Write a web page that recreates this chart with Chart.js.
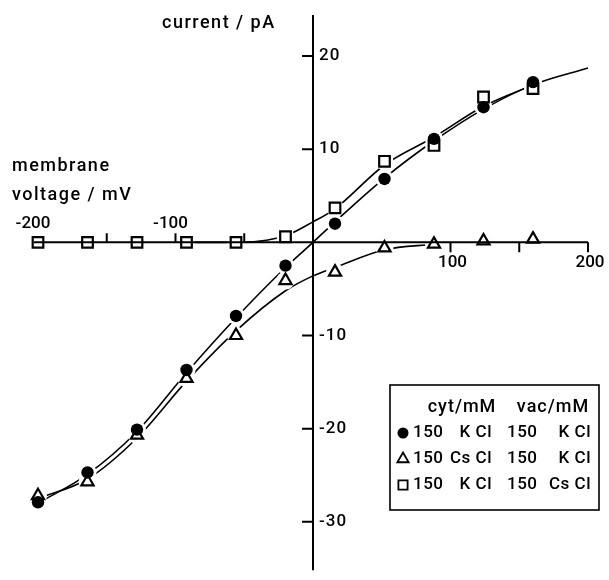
<!DOCTYPE html>
<html>
<head>
<meta charset="utf-8">
<script src="https://cdn.jsdelivr.net/npm/chart.js@4.4.0/dist/chart.umd.min.js"></script>
<style>
  html, body { margin: 0; padding: 0; background: #fff; }
  canvas { display: block; }
</style>
</head>
<body>
<canvas id="iv" width="609" height="580"></canvas>
<script>
// measured points: membrane voltage (mV) vs current (pA)
const voltage   = [-200, -164, -128, -92, -56, -20, 16, 52, 88, 124, 160];
const iKClKCl   = [-27.9, -24.7, -20.1, -13.7, -7.9, -2.5, 2.0, 6.8, 11.1, 14.5, 17.2];   // cyt KCl / vac KCl
const iCsClKCl  = [-27.2, -25.7, -20.7, -14.6, -10.0, -4.1, -3.2, -0.6, -0.2, 0.15, 0.35]; // cyt CsCl / vac KCl
const iKClCsCl  = [0, 0, 0, 0, 0, 0.6, 3.7, 8.7, 10.4, 15.6, 16.5];                      // cyt KCl / vac CsCl

// fitted curves
const fitV_KCl  = [-200, -164, -128, -92, -56, -20, 0, 16, 52, 88, 124, 160, 200];
const fitI_KCl  = [-28.0, -24.9, -20.3, -14.0, -8.1, -2.7, 0, 2.2, 6.9, 10.9, 14.3, 16.9, 18.7];
const fitV_CsCl = [-200, -164, -128, -92, -56, -20, 0, 16, 52, 88];
const fitI_CsCl = [-27.5, -25.4, -21.0, -14.9, -9.5, -5.2, -3.6, -2.7, -0.8, -0.2];
const fitV_vac  = [-92, -56, -40, -20, 0, 16, 52, 88, 124, 160];
const fitI_vac  = [0, 0, 0.1, 0.7, 2.2, 3.6, 8.3, 11.3, 14.6, 16.9];

// axis ticks
const xTicksNeg = [-150, -100, -50];
const xTicksPos = [100, 150, 200];
const xTickLabels = [-200, -100, 100, 200];
const yTicks = [20, 10, -10, -20, -30];

// legend table
const cytLabels = [['150', 'K Cl'], ['150', 'Cs Cl'], ['150', 'K Cl']];
const vacLabels = [['150', 'K Cl'], ['150', 'K Cl'], ['150', 'Cs Cl']];

const pts = (xs, ys) => xs.map((v, i) => ({ x: v, y: ys[i] }));

const WORD_FONT = '500 18px Roboto, "Open Sans", sans-serif';
const NUM_FONT = '500 17px Roboto, "Open Sans", sans-serif';

function curve(xs, ys) {
  return { type: 'line', data: pts(xs, ys), borderColor: '#000', borderWidth: 1.6,
           pointRadius: 0, fill: false, cubicInterpolationMode: 'monotone', order: 3, clip: false };
}
function halo(ys) {
  return { data: pts(voltage, ys), pointRadius: 9, pointBackgroundColor: '#fff',
           pointBorderWidth: 0, pointBorderColor: '#fff', showLine: false, order: 2, clip: false };
}
function marks(ys, style, filled, r) {
  return { data: pts(voltage, ys), pointStyle: style, pointRadius: r,
           pointBackgroundColor: filled ? '#000' : '#fff', pointBorderColor: '#000',
           pointBorderWidth: filled ? 0 : 2.2, showLine: false, order: 1, clip: false };
}

const drawAxes = {
  id: 'drawAxes',
  afterDatasetsDraw(chart) {
    const { ctx, chartArea, scales: { x, y } } = chart;
    const x0 = x.getPixelForValue(0), y0 = y.getPixelForValue(0);
    ctx.save();
    ctx.strokeStyle = '#000';
    ctx.lineWidth = 2;
    ctx.beginPath();
    ctx.moveTo(x.getPixelForValue(-200) - 4, y0);
    ctx.lineTo(x.getPixelForValue(200), y0);
    ctx.moveTo(x0, chartArea.top);
    ctx.lineTo(x0, chartArea.bottom);
    xTicksNeg.forEach(v => { const p = x.getPixelForValue(v); ctx.moveTo(p, y0); ctx.lineTo(p, y0 - 9); });
    xTicksPos.forEach(v => { const p = x.getPixelForValue(v); ctx.moveTo(p, y0); ctx.lineTo(p, y0 + 10); });
    yTicks.forEach(v => { const p = y.getPixelForValue(v); ctx.moveTo(x0 - 11, p); ctx.lineTo(x0, p); });
    ctx.stroke();

    ctx.fillStyle = '#000';
    ctx.font = NUM_FONT;
    ctx.textBaseline = 'middle';
    ctx.textAlign = 'center';
    xTickLabels.forEach(v => {
      const p = x.getPixelForValue(v);
      if (v < 0) ctx.fillText('-' + Math.abs(v), p - 5, y0 - 19);
      else ctx.fillText(String(v), p + 2, y0 + 20);
    });
    ctx.textAlign = 'left';
    ctx.letterSpacing = '1px';
    yTicks.forEach(v => {
      const p = y.getPixelForValue(v);
      ctx.fillText(v < 0 ? '-' + Math.abs(v) : String(v), x0 + 6, p);
    });

    ctx.font = WORD_FONT;
    ctx.letterSpacing = '1.5px';
    ctx.textBaseline = 'alphabetic';
    ctx.fillText('current / pA', 162, 28);
    ctx.fillText('membrane', 12, 171);
    ctx.fillText('voltage / mV', 12, 200);
    ctx.restore();
  }
};

const drawLegend = {
  id: 'drawLegend',
  afterDraw(chart) {
    const ctx = chart.ctx;
    const left = 390, top = 385, right = 599, bottom = 510;
    ctx.save();
    ctx.fillStyle = '#fff';
    ctx.fillRect(left, top, right - left, bottom - top);
    ctx.strokeStyle = '#000';
    ctx.lineWidth = 1.6;
    ctx.strokeRect(left, top, right - left, bottom - top);

    ctx.fillStyle = '#000';
    ctx.font = WORD_FONT;
    ctx.letterSpacing = '1px';
    ctx.textBaseline = 'middle';
    ctx.textAlign = 'center';
    ctx.fillText('cyt/mM', 462, 407);
    ctx.fillText('vac/mM', 553, 407);

    const styles = [['circle', true, 5.5], ['triangle', false, 6.5], ['rect', false, 6.5]];
    ctx.font = NUM_FONT;
    ctx.letterSpacing = '0.5px';
    cytLabels.forEach((c, i) => {
      const yy = 433 + i * 26;
      const [st, filled, r] = styles[i];
      ctx.fillStyle = filled ? '#000' : '#fff';
      ctx.strokeStyle = '#000';
      ctx.lineWidth = filled ? 0 : 1.8;
      Chart.helpers.drawPoint(ctx, { pointStyle: st, radius: r, rotation: 0, borderWidth: filled ? 0 : 1.8 }, 403, yy);
      ctx.fillStyle = '#000';
      ctx.textAlign = 'left';
      ctx.fillText(c[0], 413, yy);
      ctx.fillText(vacLabels[i][0], 507, yy);
      ctx.textAlign = 'right';
      ctx.fillText(c[1], 492, yy);
      ctx.fillText(vacLabels[i][1], 591, yy);
    });
    ctx.restore();
  }
};

new Chart(document.getElementById('iv'), {
  type: 'scatter',
  data: {
    datasets: [
      curve(fitV_KCl, fitI_KCl),
      curve(fitV_CsCl, fitI_CsCl),
      curve(fitV_vac, fitI_vac),
      halo(iKClKCl),
      halo(iCsClKCl),
      halo(iKClCsCl),
      marks(iKClKCl, 'circle', true, 6.2),
      marks(iCsClKCl, 'triangle', false, 7),
      marks(iKClCsCl, 'rect', false, 7.5)
    ]
  },
  options: {
    responsive: false,
    animation: false,
    events: [],
    layout: { padding: { left: 38, right: 21, top: 15, bottom: 0 } },
    plugins: { legend: { display: false }, tooltip: { enabled: false } },
    scales: {
      x: { type: 'linear', min: -200, max: 200, display: false },
      y: { type: 'linear', min: -35.2, max: 24.4, display: false }
    }
  },
  plugins: [drawAxes, drawLegend]
});
</script>
</body>
</html>
